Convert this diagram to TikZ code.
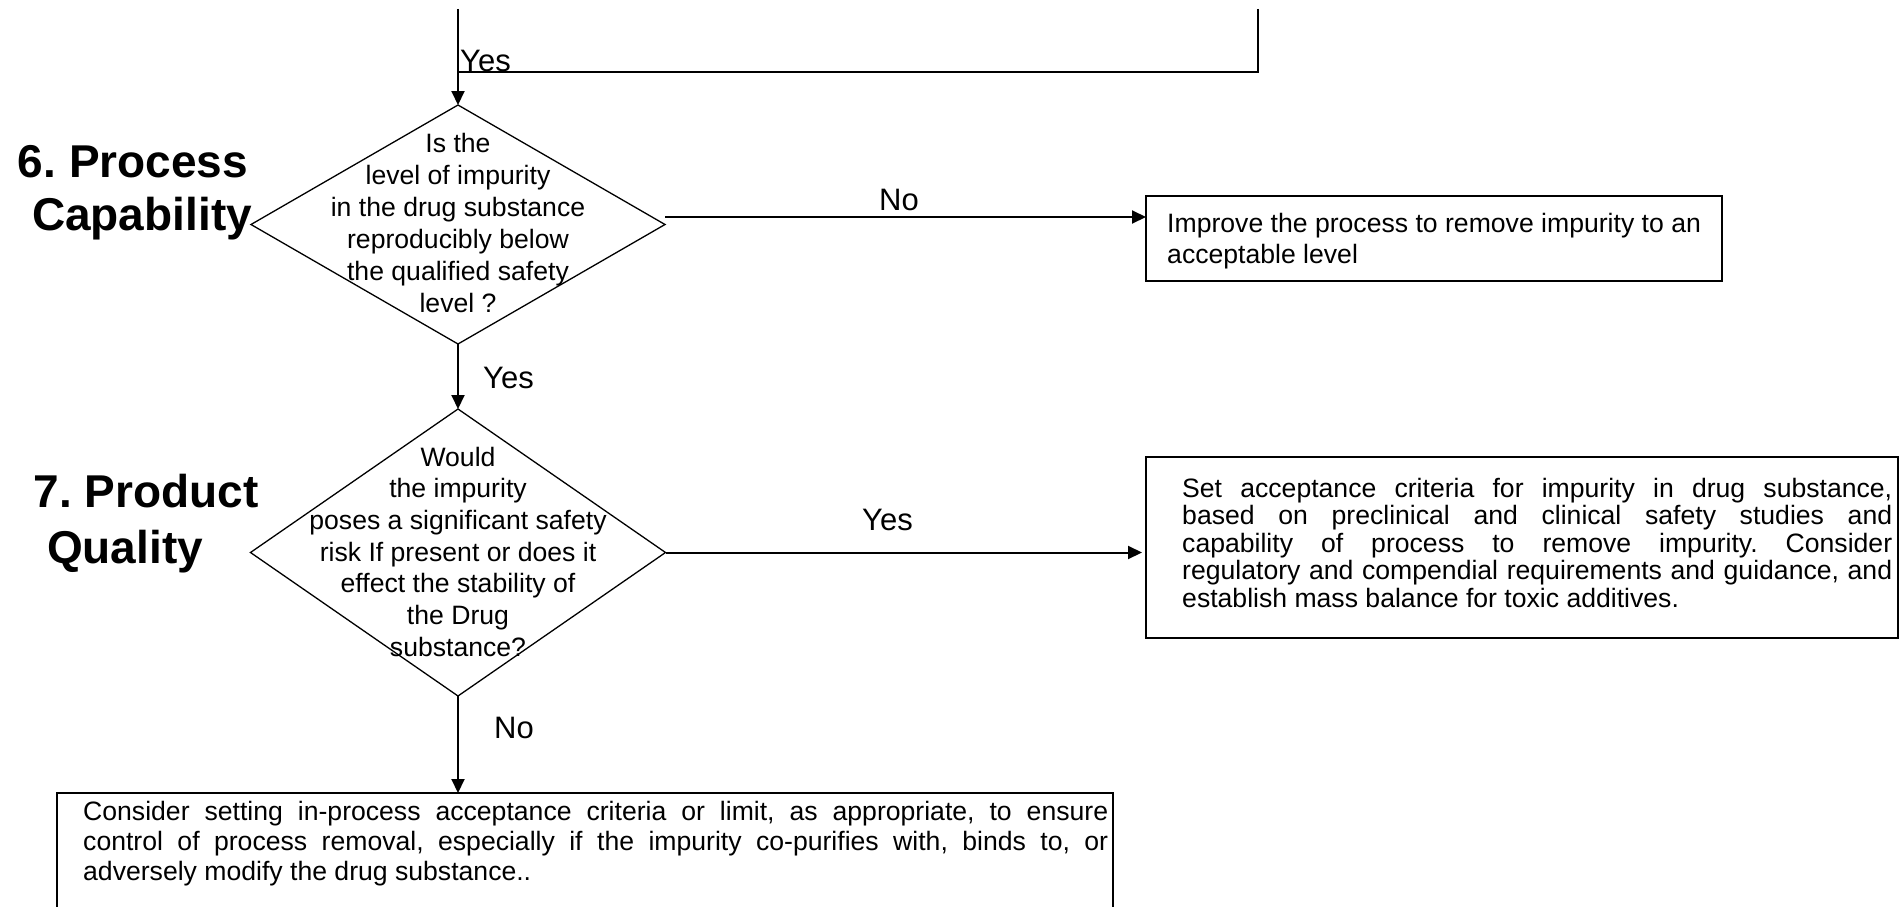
\documentclass[tikz,border=0pt]{standalone}
\usepackage{fontspec}
\setmainfont{Liberation Sans}
\usetikzlibrary{shapes.geometric,arrows.meta}
\frenchspacing
\begin{document}
\begin{tikzpicture}[x=1pt,y=-1pt,
  conn/.style={line width=2pt},
  arr/.style={conn,-{Triangle[length=14pt,width=13pt]}},
  dia/.style={diamond,draw,line width=1.3pt,inner sep=0pt,outer sep=0pt},
  box/.style={draw,line width=2.2pt,rectangle,inner sep=0pt,outer sep=0pt,anchor=north west},
  qtext/.style={inner sep=0pt,anchor=base},
  btext/.style={inner sep=0pt,anchor=base west},
  lab/.style={font=\fontsize{31}{31}\selectfont,inner sep=0pt,anchor=base west},
  title/.style={font=\fontsize{46}{46}\selectfont\bfseries,inner sep=0pt,anchor=base}
]
\useasboundingbox (0,0) rectangle (1904,907);
\clip (0,0) rectangle (1904,907);

% titles
\node[title] (h6a) at (133,177) {6. Process};
\node[title] (h6b) at (142,230) {Capability};
\node[title] (h7a) at (146,507) {7. Product};
\node[title] (h7b) at (125,563) {Quality};

% decisions
\node[dia,minimum width=414pt,minimum height=239pt] (d1) at (458,224.5) {};
\node[qtext] (q1) at (458,152) {\fontsize{26.6}{32}\selectfont\parbox[t]{330pt}{\centering
  Is the\\level of impurity\\in the drug substance\\reproducibly below\\the qualified safety\\level ?}};
\node[dia,minimum width=415pt,minimum height=287pt] (d2) at (458,552.5) {};
\node[qtext] (q2) at (458,466) {\fontsize{26.6}{31.7}\selectfont\parbox[t]{330pt}{\centering
  Would\\the impurity\\poses a significant safety\\risk If present or does it\\effect the stability of\\the Drug\\substance?}};

% boxes
\node[box,minimum width=576pt,minimum height=85pt] (b1) at (1146,196) {};
\node[btext] (x1) at (1167,232) {\fontsize{26.6}{31}\selectfont\parbox[t]{545pt}{\raggedright
  Improve the process to remove impurity to an\\acceptable level}};

\node[box,minimum width=752pt,minimum height=181pt] (b2) at (1146,457) {};
\node[btext] (x2) at (1182,497) {\fontsize{26.6}{27.5}\selectfont\parbox[t]{710pt}{\raggedright
  \makebox[710pt][s]{Set acceptance criteria for impurity in drug substance,}\\
  \makebox[710pt][s]{based on preclinical and clinical safety studies and}\\
  \makebox[710pt][s]{capability of process to remove impurity. Consider}\\
  \makebox[710pt][s]{regulatory and compendial requirements and guidance, and}\\
  establish mass balance for toxic additives.}};

\node[box,minimum width=1056pt,minimum height=160pt] (b3) at (57,793) {};
\node[btext] (x3) at (83,820) {\fontsize{26.6}{30}\selectfont\parbox[t]{1025pt}{\raggedright
  \makebox[1025pt][s]{Consider setting in-process acceptance criteria or limit, as appropriate, to ensure}\\
  \makebox[1025pt][s]{control of process removal, especially if the impurity co-purifies with, binds to, or}\\
  adversely modify the drug substance..}};

% connectors
\coordinate (tl) at (458,9);
\coordinate (tr) at (1258,9);
\coordinate (tj) at (458,72);
\coordinate (a1) at (665,217);
\draw[conn] (tr) |- (tj);
\draw[arr] (tl) -- (d1.north);
\draw[arr] (a1) -- (a1 -| b1.west);
\draw[arr] (d1.south) -- (d2.north);
\draw[arr,shorten >=4pt] (d2.east) -- (d2.east -| b2.west);
\draw[arr] (d2.south) -- (d2.south |- b3.north);

% labels
\node[lab] (l1) at (460,72) {Yes};
\node[lab] (l2) at (879,210) {No};
\node[lab] (l3) at (483,388) {Yes};
\node[lab] (l4) at (862,530) {Yes};
\node[lab] (l5) at (494,738) {No};
\end{tikzpicture}
\end{document}
